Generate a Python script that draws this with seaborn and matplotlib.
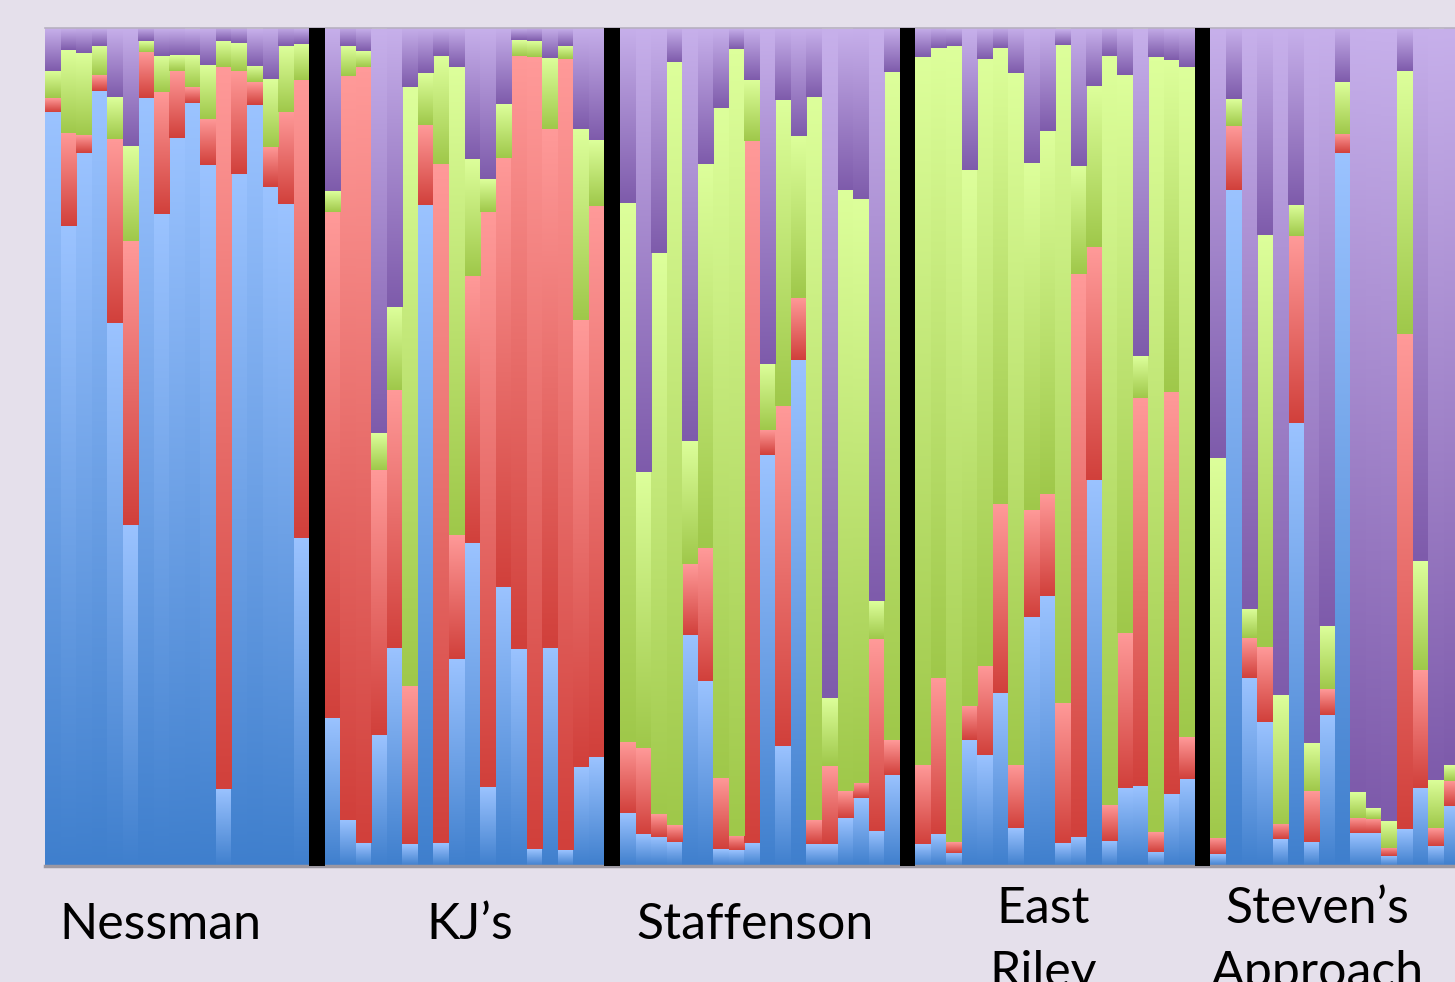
import numpy as np
import pandas as pd
import matplotlib
matplotlib.use("Agg")
import matplotlib.pyplot as plt
import seaborn as sns

# populations (left to right) and number of individuals in each
groups = ["Nessman", "KJ’s", "Staffenson", "East Riley", "Steven’s Approach"]
group_sizes = [17, 18, 18, 18, 16]

# ancestry proportions per individual, stacked bottom -> top: blue, red, green, purple
blue = [
    # Nessman
    0.900, 0.764, 0.851, 0.925, 0.648, 0.407, 0.916, 0.778, 0.869, 0.910, 0.837, 0.092, 0.826, 0.908, 0.810, 0.790, 0.391,
    # KJ's
    0.177, 0.055, 0.027, 0.156, 0.260, 0.026, 0.789, 0.027, 0.247, 0.385, 0.094, 0.333, 0.259, 0.020, 0.260, 0.019, 0.118, 0.130,
    # Staffenson
    0.063, 0.038, 0.035, 0.029, 0.276, 0.221, 0.020, 0.019, 0.027, 0.490, 0.143, 0.604, 0.026, 0.026, 0.057, 0.081, 0.042, 0.109,
    # East Riley
    0.026, 0.038, 0.016, 0.150, 0.132, 0.206, 0.045, 0.297, 0.322, 0.027, 0.035, 0.461, 0.030, 0.093, 0.095, 0.017, 0.086, 0.104,
    # Steven's Approach
    0.014, 0.807, 0.224, 0.172, 0.032, 0.529, 0.029, 0.180, 0.851, 0.039, 0.039, 0.012, 0.044, 0.093, 0.024, 0.072,
]
red = [
    0.016, 0.111, 0.021, 0.019, 0.220, 0.339, 0.055, 0.146, 0.080, 0.019, 0.055, 0.862, 0.123, 0.027, 0.048, 0.110, 0.547,
    0.604, 0.888, 0.926, 0.317, 0.308, 0.189, 0.095, 0.811, 0.148, 0.319, 0.687, 0.512, 0.708, 0.945, 0.619, 0.944, 0.533, 0.658,
    0.085, 0.103, 0.027, 0.020, 0.084, 0.158, 0.085, 0.017, 0.838, 0.030, 0.406, 0.074, 0.029, 0.093, 0.032, 0.018, 0.229, 0.041,
    0.095, 0.186, 0.013, 0.041, 0.107, 0.226, 0.076, 0.128, 0.122, 0.168, 0.671, 0.278, 0.043, 0.185, 0.464, 0.023, 0.480, 0.050,
    0.020, 0.076, 0.048, 0.089, 0.018, 0.223, 0.060, 0.031, 0.023, 0.018, 0.017, 0.010, 0.591, 0.141, 0.021, 0.030,
]
green = [
    0.033, 0.099, 0.098, 0.035, 0.050, 0.113, 0.013, 0.043, 0.019, 0.039, 0.064, 0.030, 0.033, 0.020, 0.081, 0.078, 0.043,
    0.024, 0.035, 0.019, 0.044, 0.099, 0.714, 0.062, 0.128, 0.558, 0.140, 0.039, 0.064, 0.019, 0.019, 0.085, 0.016, 0.228, 0.078,
    0.643, 0.329, 0.669, 0.911, 0.147, 0.459, 0.800, 0.939, 0.073, 0.079, 0.365, 0.193, 0.863, 0.082, 0.718, 0.697, 0.045, 0.798,
    0.844, 0.752, 0.950, 0.640, 0.724, 0.544, 0.825, 0.414, 0.433, 0.785, 0.129, 0.192, 0.893, 0.666, 0.050, 0.925, 0.396, 0.800,
    0.453, 0.032, 0.035, 0.492, 0.154, 0.037, 0.058, 0.075, 0.061, 0.031, 0.013, 0.032, 0.314, 0.130, 0.058, 0.019,
]
purple = [
    0.051, 0.026, 0.030, 0.021, 0.082, 0.141, 0.016, 0.033, 0.032, 0.031, 0.044, 0.017, 0.018, 0.044, 0.061, 0.023, 0.019,
    0.196, 0.023, 0.027, 0.482, 0.333, 0.072, 0.054, 0.033, 0.047, 0.156, 0.179, 0.091, 0.014, 0.016, 0.036, 0.021, 0.121, 0.135,
    0.209, 0.530, 0.268, 0.041, 0.494, 0.162, 0.095, 0.025, 0.062, 0.401, 0.086, 0.129, 0.082, 0.798, 0.192, 0.204, 0.684, 0.053,
    0.035, 0.024, 0.021, 0.169, 0.036, 0.024, 0.054, 0.161, 0.123, 0.019, 0.166, 0.069, 0.035, 0.056, 0.390, 0.036, 0.038, 0.047,
    0.512, 0.085, 0.693, 0.247, 0.796, 0.211, 0.853, 0.714, 0.066, 0.912, 0.931, 0.946, 0.051, 0.636, 0.896, 0.879,
]

# label placement (x in bar units, y in axes fraction) - text boxes in the slide
label_lines = [("Nessman", 6.9, -0.087), ("KJ’s", 26.85, -0.087), ("Staffenson", 45.2, -0.087),
               ("East", 63.7, -0.068), ("Riley", 63.7, -0.144),
               ("Steven’s", 81.4, -0.068), ("Approach", 81.4, -0.144)]

sns.set_style("white")
plt.rcParams["font.family"] = ["Lato", "DejaVu Sans"]

bg = "#e5e0eb"
cmaps = {
    "blue": sns.blend_palette(["#9bc3ff", "#3f7fcd"], as_cmap=True),
    "red": sns.blend_palette(["#ff9a99", "#d1403b"], as_cmap=True),
    "green": sns.blend_palette(["#ddff9b", "#9fc84a"], as_cmap=True),
    "purple": sns.blend_palette(["#c7b0eb", "#7e5bab"], as_cmap=True),
}

# x positions: one black spacer column between populations
pos = []
seps = []
start = 0
for i, n in enumerate(group_sizes):
    pos += list(range(start, start + n))
    start += n
    if i < len(group_sizes) - 1:
        seps.append(start)
        start += 1

df = pd.DataFrame({"pos": pos, "blue": blue, "red": red, "green": green, "purple": purple})

fig = plt.figure(figsize=(14.55, 9.82), dpi=100, facecolor=bg)
ax = fig.add_axes([45 / 1455, 116 / 982, 1410 / 1455, 838 / 982])
ax.set_facecolor(bg)

grad = np.linspace(0, 1, 256).reshape(-1, 1)
bottom = np.zeros(len(df))
for comp in ["blue", "red", "green", "purple"]:
    cmap = cmaps[comp]
    bars = ax.bar(df["pos"], df[comp], bottom=bottom, width=1.0, color=cmap(0.5), linewidth=0, zorder=1)
    for rect in bars:
        x0, y0 = rect.get_x(), rect.get_y()
        ax.imshow(grad, cmap=cmap, aspect="auto", interpolation="bilinear", zorder=2,
                  extent=(x0, x0 + rect.get_width(), y0, y0 + rect.get_height()))
    bottom += df[comp].values

ax.bar(seps, [1.0] * len(seps), width=1.0, color="black", linewidth=0, zorder=3)

ax.set_xlim(-0.5, -0.5 + 1410 / 15.54)
ax.set_ylim(0, 1)
ax.set_xticks([])
ax.set_yticks([])
for side in ["left", "right"]:
    ax.spines[side].set_visible(False)
ax.spines["top"].set_color("#b7b0c0")
ax.spines["top"].set_linewidth(1.2)
ax.spines["bottom"].set_color("#9c98a2")
ax.spines["bottom"].set_linewidth(2.5)

for txt, x, y in label_lines:
    ax.text(x, y, txt, transform=ax.get_xaxis_transform(), ha="center", va="baseline",
            fontsize=36, color="black", clip_on=False)

fig.savefig("out.png", dpi=100, facecolor=bg)
